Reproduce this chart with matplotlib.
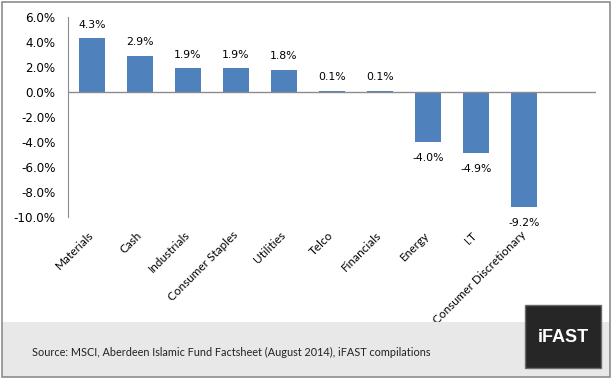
import matplotlib
matplotlib.use("Agg")
import matplotlib.pyplot as plt
from matplotlib.patches import Rectangle
from matplotlib.ticker import FuncFormatter
from matplotlib.transforms import ScaledTranslation

categories = ["Materials", "Cash", "Industrials", "Consumer Staples", "Utilities",
              "Telco", "Financials", "Energy", "I.T", "Consumer Discretionary"]
values = [4.3, 2.9, 1.9, 1.9, 1.8, 0.1, 0.1, -4.0, -4.9, -9.2]
yticks = [6, 4, 2, 0, -2, -4, -6, -8, -10]

plt.rcParams['font.family'] = ['DejaVu Sans']

fig = plt.figure(figsize=(6.15, 3.8), dpi=100)
W, H = 615, 380

# footer band
fig.patches.append(Rectangle((2/W, 3/H), 608/W, 55/H, transform=fig.transFigure,
                             facecolor='#e8e8e8', edgecolor='none', zorder=0))
# outer border
fig.patches.append(Rectangle((2/W, 3/H), 608/W, 375/H, transform=fig.transFigure,
                             facecolor='none', edgecolor='#8c8c8c', lw=1.2, zorder=5))
# iFAST box
fig.patches.append(Rectangle((525/W, 12/H), 76/W, 63/H, transform=fig.transFigure,
                             facecolor='#262626', edgecolor='#6a6a6a', lw=1, zorder=3))
fig.text(563/W, 42/H, "iFAST", color='white', fontsize=13, fontweight='bold',
         ha='center', va='center', family=['Liberation Sans', 'DejaVu Sans'], zorder=6)
fig.text(32/W, 28/H, "Source: MSCI, Aberdeen Islamic Fund Factsheet (August 2014), iFAST compilations",
         fontsize=7.8, ha='left', va='center', color='#222222', family=['Lato', 'DejaVu Sans'])

n_slots = len(categories) + 1
ax = fig.add_axes([68/W, 1 - 217/H, (596-68)/W, 200/H])
x = list(range(len(categories)))
ax.bar(x, values, width=0.56, color='#4f81bd', zorder=2)
ax.axhline(0, color='#8c8c8c', lw=1, zorder=3)
ax.set_xlim(-0.5, n_slots - 0.5)
ax.set_ylim(-10, 6)
ax.set_yticks(yticks)
ax.yaxis.set_major_formatter(FuncFormatter(lambda v, p: f"{v:.1f}%"))
ax.tick_params(axis='y', length=0, labelsize=8.6, pad=9)
ax.set_xticks(x)
ax.set_xticklabels(categories, rotation=45, ha='right', rotation_mode='anchor',
                   fontsize=8.5, family=['Lato', 'DejaVu Sans'])
ax.tick_params(axis='x', length=0, pad=6)
shift = ScaledTranslation(-4/100, -4/100, fig.dpi_scale_trans)
for lbl in ax.get_xticklabels():
    lbl.set_transform(lbl.get_transform() + shift)
for s in ['top', 'right', 'bottom']:
    ax.spines[s].set_visible(False)
ax.spines['left'].set_color('#8c8c8c')

for xi, v in zip(x, values):
    if v >= 0:
        ax.annotate(f"{v:.1f}%", (xi, v), xytext=(0, 6), textcoords='offset points',
                    ha='center', va='bottom', fontsize=7.8)
    else:
        ax.annotate(f"{v:.1f}%", (xi, v), xytext=(0, -8), textcoords='offset points',
                    ha='center', va='top', fontsize=7.8)

fig.savefig("out.png", dpi=100)
